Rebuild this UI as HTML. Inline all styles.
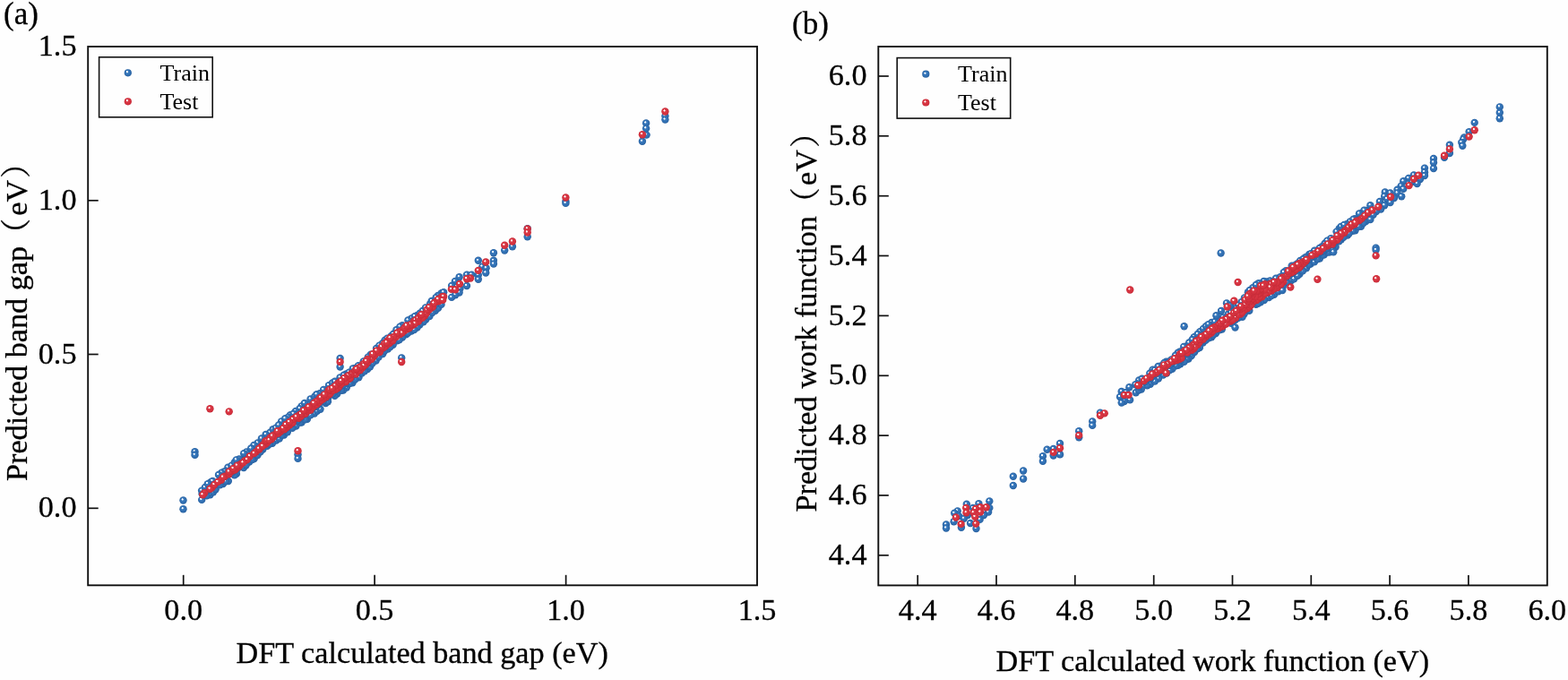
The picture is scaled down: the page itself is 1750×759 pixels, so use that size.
<!DOCTYPE html>
<html><head><meta charset="utf-8"><title>Predicted vs DFT</title><style>html,body{margin:0;padding:0;background:#fefefe;}svg{display:block}</style></head>
<body><svg width="1750" height="759" viewBox="0 0 1750 759"><defs>
<radialGradient id="gb" cx="0.5" cy="0.5" r="0.5" fx="0.36" fy="0.33">
<stop offset="0" stop-color="#fff"/><stop offset="0.19" stop-color="#f0f6fb"/><stop offset="0.33" stop-color="#3b7cc0"/><stop offset="0.8" stop-color="#2e6bad"/><stop offset="1" stop-color="#27609f"/>
</radialGradient>
<radialGradient id="gr" cx="0.5" cy="0.5" r="0.5" fx="0.36" fy="0.33">
<stop offset="0" stop-color="#fff"/><stop offset="0.19" stop-color="#fcf2f2"/><stop offset="0.33" stop-color="#da3b48"/><stop offset="0.8" stop-color="#d3303d"/><stop offset="1" stop-color="#c42a37"/>
</radialGradient>
</defs><rect width="1750" height="759" fill="#fefefe"/>
<rect x="98.2" y="52" width="746.8" height="601.3" fill="none" stroke="#111" stroke-width="1.9"/><line x1="204.7" y1="653.3" x2="204.7" y2="641.8" stroke="#111" stroke-width="1.7"/><line x1="418.1" y1="653.3" x2="418.1" y2="641.8" stroke="#111" stroke-width="1.7"/><line x1="631.6" y1="653.3" x2="631.6" y2="641.8" stroke="#111" stroke-width="1.7"/><line x1="98.2" y1="567.3" x2="109.7" y2="567.3" stroke="#111" stroke-width="1.7"/><line x1="98.2" y1="395.5" x2="109.7" y2="395.5" stroke="#111" stroke-width="1.7"/><line x1="98.2" y1="223.8" x2="109.7" y2="223.8" stroke="#111" stroke-width="1.7"/><rect x="980.3" y="52" width="746.5" height="601.4" fill="none" stroke="#111" stroke-width="1.9"/><line x1="1024.2" y1="653.4" x2="1024.2" y2="641.9" stroke="#111" stroke-width="1.7"/><line x1="1112.0" y1="653.4" x2="1112.0" y2="641.9" stroke="#111" stroke-width="1.7"/><line x1="1199.8" y1="653.4" x2="1199.8" y2="641.9" stroke="#111" stroke-width="1.7"/><line x1="1287.7" y1="653.4" x2="1287.7" y2="641.9" stroke="#111" stroke-width="1.7"/><line x1="1375.5" y1="653.4" x2="1375.5" y2="641.9" stroke="#111" stroke-width="1.7"/><line x1="1463.3" y1="653.4" x2="1463.3" y2="641.9" stroke="#111" stroke-width="1.7"/><line x1="1551.1" y1="653.4" x2="1551.1" y2="641.9" stroke="#111" stroke-width="1.7"/><line x1="1638.9" y1="653.4" x2="1638.9" y2="641.9" stroke="#111" stroke-width="1.7"/><line x1="980.3" y1="619.8" x2="991.8" y2="619.8" stroke="#111" stroke-width="1.7"/><line x1="980.3" y1="552.9" x2="991.8" y2="552.9" stroke="#111" stroke-width="1.7"/><line x1="980.3" y1="486.1" x2="991.8" y2="486.1" stroke="#111" stroke-width="1.7"/><line x1="980.3" y1="419.3" x2="991.8" y2="419.3" stroke="#111" stroke-width="1.7"/><line x1="980.3" y1="352.4" x2="991.8" y2="352.4" stroke="#111" stroke-width="1.7"/><line x1="980.3" y1="285.5" x2="991.8" y2="285.5" stroke="#111" stroke-width="1.7"/><line x1="980.3" y1="218.7" x2="991.8" y2="218.7" stroke="#111" stroke-width="1.7"/><line x1="980.3" y1="151.8" x2="991.8" y2="151.8" stroke="#111" stroke-width="1.7"/><line x1="980.3" y1="85.0" x2="991.8" y2="85.0" stroke="#111" stroke-width="1.7"/><g fill="url(#gb)"><circle cx="393.4" cy="427.4" r="4.2"/><circle cx="386.8" cy="432.6" r="4.2"/><circle cx="350.9" cy="461.6" r="4.2"/><circle cx="383.1" cy="435.6" r="4.2"/><circle cx="1422.1" cy="328.8" r="4.2"/><circle cx="1490.6" cy="275.8" r="4.2"/><circle cx="336.6" cy="471.6" r="4.2"/><circle cx="376.3" cy="439.6" r="4.2"/><circle cx="410.2" cy="412.1" r="4.2"/><circle cx="1450.5" cy="305.7" r="4.2"/><circle cx="1329.8" cy="397.1" r="4.2"/><circle cx="1426.7" cy="325.4" r="4.2"/><circle cx="1438.0" cy="314.4" r="4.2"/><circle cx="342.9" cy="467.8" r="4.2"/><circle cx="334.7" cy="471.6" r="4.2"/><circle cx="234.5" cy="552.3" r="4.2"/><circle cx="1441.2" cy="313.0" r="4.2"/><circle cx="1457.9" cy="299.4" r="4.2"/><circle cx="1326.5" cy="400.5" r="4.2"/><circle cx="413.1" cy="409.2" r="4.2"/><circle cx="1472.9" cy="288.6" r="4.2"/><circle cx="263.9" cy="528.9" r="4.2"/><circle cx="1444.2" cy="311.4" r="4.2"/><circle cx="1462.7" cy="294.5" r="4.2"/><circle cx="1324.4" cy="401.1" r="4.2"/><circle cx="1484.4" cy="281.2" r="4.2"/><circle cx="1477.8" cy="284.4" r="4.2"/><circle cx="340.6" cy="468.3" r="4.2"/><circle cx="1519.0" cy="252.8" r="4.2"/><circle cx="238.0" cy="549.3" r="4.2"/><circle cx="1476.6" cy="284.6" r="4.2"/><circle cx="363.5" cy="450.0" r="4.2"/><circle cx="1317.4" cy="406.2" r="4.2"/><circle cx="400.4" cy="421.3" r="4.2"/><circle cx="1482.4" cy="281.5" r="4.2"/><circle cx="1413.7" cy="332.0" r="4.2"/><circle cx="1487.5" cy="279.1" r="4.2"/><circle cx="346.5" cy="463.4" r="4.2"/><circle cx="419.6" cy="402.6" r="4.2"/><circle cx="354.0" cy="458.8" r="4.2"/><circle cx="1302.1" cy="416.6" r="4.2"/><circle cx="373.6" cy="441.8" r="4.2"/><circle cx="357.5" cy="456.8" r="4.2"/><circle cx="1388.7" cy="350.3" r="4.2"/><circle cx="1466.9" cy="292.4" r="4.2"/><circle cx="272.0" cy="522.0" r="4.2"/><circle cx="308.3" cy="491.6" r="4.2"/><circle cx="1470.1" cy="289.2" r="4.2"/><circle cx="396.3" cy="423.6" r="4.2"/><circle cx="403.8" cy="416.5" r="4.2"/><circle cx="1298.2" cy="418.5" r="4.2"/><circle cx="1416.2" cy="332.0" r="4.2"/><circle cx="1447.0" cy="305.8" r="4.2"/><circle cx="1524.4" cy="247.0" r="4.2"/><circle cx="240.6" cy="546.3" r="4.2"/><circle cx="304.0" cy="494.7" r="4.2"/><circle cx="1521.6" cy="249.1" r="4.2"/><circle cx="1460.5" cy="295.6" r="4.2"/><circle cx="317.0" cy="485.5" r="4.2"/><circle cx="1386.6" cy="353.7" r="4.2"/><circle cx="1314.7" cy="407.9" r="4.2"/><circle cx="1512.5" cy="257.2" r="4.2"/><circle cx="390.3" cy="428.0" r="4.2"/><circle cx="283.7" cy="512.0" r="4.2"/><circle cx="1292.9" cy="422.5" r="4.2"/><circle cx="1419.0" cy="330.1" r="4.2"/><circle cx="366.0" cy="444.2" r="4.2"/><circle cx="320.8" cy="482.2" r="4.2"/><circle cx="1394.3" cy="346.7" r="4.2"/><circle cx="1436.3" cy="315.3" r="4.2"/><circle cx="1453.9" cy="302.4" r="4.2"/><circle cx="1333.1" cy="393.0" r="4.2"/><circle cx="1448.2" cy="307.9" r="4.2"/><circle cx="475.3" cy="356.6" r="4.2"/><circle cx="311.8" cy="489.6" r="4.2"/><circle cx="278.3" cy="515.6" r="4.2"/><circle cx="1410.9" cy="335.1" r="4.2"/><circle cx="1363.8" cy="367.6" r="4.2"/><circle cx="432.9" cy="389.6" r="4.2"/><circle cx="254.8" cy="537.0" r="4.2"/><circle cx="365.9" cy="448.3" r="4.2"/><circle cx="1312.3" cy="408.4" r="4.2"/><circle cx="1496.9" cy="267.3" r="4.2"/><circle cx="374.1" cy="436.8" r="4.2"/><circle cx="406.8" cy="414.3" r="4.2"/><circle cx="1401.9" cy="339.7" r="4.2"/><circle cx="1431.8" cy="319.8" r="4.2"/><circle cx="281.5" cy="513.0" r="4.2"/><circle cx="1427.0" cy="319.1" r="4.2"/><circle cx="1488.0" cy="273.2" r="4.2"/><circle cx="1509.7" cy="257.9" r="4.2"/><circle cx="1357.0" cy="372.0" r="4.2"/><circle cx="380.9" cy="435.7" r="4.2"/><circle cx="1321.6" cy="403.8" r="4.2"/><circle cx="422.6" cy="398.6" r="4.2"/><circle cx="1503.9" cy="262.5" r="4.2"/><circle cx="1516.3" cy="252.8" r="4.2"/><circle cx="472.6" cy="359.3" r="4.2"/><circle cx="1406.8" cy="337.4" r="4.2"/><circle cx="468.4" cy="362.5" r="4.2"/><circle cx="1283.8" cy="428.7" r="4.2"/><circle cx="330.4" cy="475.5" r="4.2"/><circle cx="261.7" cy="530.4" r="4.2"/><circle cx="453.1" cy="373.4" r="4.2"/><circle cx="274.6" cy="519.2" r="4.2"/><circle cx="415.7" cy="405.4" r="4.2"/><circle cx="293.4" cy="501.5" r="4.2"/><circle cx="1374.1" cy="360.8" r="4.2"/><circle cx="249.0" cy="540.0" r="4.2"/><circle cx="1478.4" cy="279.3" r="4.2"/><circle cx="1428.3" cy="319.4" r="4.2"/><circle cx="1499.5" cy="264.7" r="4.2"/><circle cx="245.4" cy="541.4" r="4.2"/><circle cx="225.2" cy="557.9" r="4.2"/><circle cx="251.9" cy="537.3" r="4.2"/><circle cx="1308.4" cy="411.8" r="4.2"/><circle cx="485.9" cy="346.7" r="4.2"/><circle cx="1305.7" cy="413.1" r="4.2"/><circle cx="1481.0" cy="277.2" r="4.2"/><circle cx="326.3" cy="477.7" r="4.2"/><circle cx="371.2" cy="439.7" r="4.2"/><circle cx="1404.1" cy="338.8" r="4.2"/><circle cx="376.9" cy="434.8" r="4.2"/><circle cx="449.1" cy="376.5" r="4.2"/><circle cx="1342.6" cy="382.6" r="4.2"/><circle cx="1382.1" cy="354.9" r="4.2"/><circle cx="1318.2" cy="401.7" r="4.2"/><circle cx="287.5" cy="508.0" r="4.2"/><circle cx="459.1" cy="369.5" r="4.2"/><circle cx="465.6" cy="365.5" r="4.2"/><circle cx="1417.4" cy="324.8" r="4.2"/><circle cx="1414.3" cy="327.0" r="4.2"/><circle cx="385.9" cy="427.9" r="4.2"/><circle cx="479.4" cy="353.1" r="4.2"/><circle cx="1280.3" cy="430.2" r="4.2"/><circle cx="462.3" cy="368.1" r="4.2"/><circle cx="1352.2" cy="376.2" r="4.2"/><circle cx="1326.7" cy="393.9" r="4.2"/><circle cx="314.7" cy="485.6" r="4.2"/><circle cx="443.2" cy="380.4" r="4.2"/><circle cx="350.9" cy="454.4" r="4.2"/><circle cx="1361.0" cy="368.3" r="4.2"/><circle cx="353.4" cy="453.2" r="4.2"/><circle cx="379.2" cy="431.8" r="4.2"/><circle cx="290.6" cy="504.4" r="4.2"/><circle cx="230.7" cy="553.4" r="4.2"/><circle cx="1379.0" cy="356.7" r="4.2"/><circle cx="1475.3" cy="281.1" r="4.2"/><circle cx="445.6" cy="379.4" r="4.2"/><circle cx="1349.1" cy="377.4" r="4.2"/><circle cx="1267.7" cy="438.3" r="4.2"/><circle cx="1336.3" cy="385.7" r="4.2"/><circle cx="1432.0" cy="312.7" r="4.2"/><circle cx="1338.9" cy="388.0" r="4.2"/><circle cx="1450.7" cy="298.7" r="4.2"/><circle cx="482.4" cy="349.0" r="4.2"/><circle cx="1288.9" cy="425.6" r="4.2"/><circle cx="427.2" cy="395.1" r="4.2"/><circle cx="410.5" cy="405.3" r="4.2"/><circle cx="1273.8" cy="434.5" r="4.2"/><circle cx="314.8" cy="481.7" r="4.2"/><circle cx="1494.5" cy="269.3" r="4.2"/><circle cx="1419.5" cy="323.1" r="4.2"/><circle cx="258.9" cy="527.8" r="4.2"/><circle cx="347.4" cy="457.1" r="4.2"/><circle cx="1485.6" cy="273.1" r="4.2"/><circle cx="1336.3" cy="389.4" r="4.2"/><circle cx="429.1" cy="391.8" r="4.2"/><circle cx="489.1" cy="343.8" r="4.2"/><circle cx="1505.7" cy="260.5" r="4.2"/><circle cx="1444.6" cy="303.4" r="4.2"/><circle cx="1320.9" cy="397.6" r="4.2"/><circle cx="337.2" cy="465.4" r="4.2"/><circle cx="382.8" cy="429.9" r="4.2"/><circle cx="1423.0" cy="321.6" r="4.2"/><circle cx="1270.8" cy="435.5" r="4.2"/><circle cx="1376.2" cy="358.8" r="4.2"/><circle cx="455.2" cy="371.9" r="4.2"/><circle cx="344.0" cy="458.6" r="4.2"/><circle cx="399.9" cy="414.2" r="4.2"/><circle cx="438.7" cy="384.8" r="4.2"/><circle cx="333.1" cy="468.7" r="4.2"/><circle cx="402.4" cy="411.2" r="4.2"/><circle cx="298.3" cy="497.9" r="4.2"/><circle cx="406.5" cy="409.4" r="4.2"/><circle cx="363.8" cy="444.4" r="4.2"/><circle cx="1453.8" cy="295.4" r="4.2"/><circle cx="1510.8" cy="251.7" r="4.2"/><circle cx="320.8" cy="476.8" r="4.2"/><circle cx="1340.2" cy="381.5" r="4.2"/><circle cx="1345.6" cy="379.9" r="4.2"/><circle cx="360.5" cy="447.9" r="4.2"/><circle cx="1466.8" cy="286.2" r="4.2"/><circle cx="1435.9" cy="309.3" r="4.2"/><circle cx="435.7" cy="387.0" r="4.2"/><circle cx="393.2" cy="420.2" r="4.2"/><circle cx="1495.3" cy="262.9" r="4.2"/><circle cx="1330.5" cy="389.7" r="4.2"/><circle cx="1411.2" cy="326.7" r="4.2"/><circle cx="396.4" cy="416.2" r="4.2"/><circle cx="1354.0" cy="374.1" r="4.2"/><circle cx="240.7" cy="539.3" r="4.2"/><circle cx="231.5" cy="547.2" r="4.2"/><circle cx="1461.2" cy="289.3" r="4.2"/><circle cx="330.8" cy="470.3" r="4.2"/><circle cx="1490.9" cy="266.6" r="4.2"/><circle cx="473.3" cy="352.7" r="4.2"/><circle cx="300.9" cy="495.5" r="4.2"/><circle cx="356.4" cy="450.2" r="4.2"/><circle cx="459.1" cy="363.0" r="4.2"/><circle cx="265.0" cy="523.4" r="4.2"/><circle cx="412.9" cy="401.4" r="4.2"/><circle cx="462.6" cy="361.0" r="4.2"/><circle cx="1385.6" cy="347.0" r="4.2"/><circle cx="1391.5" cy="345.1" r="4.2"/><circle cx="247.5" cy="533.8" r="4.2"/><circle cx="268.2" cy="517.8" r="4.2"/><circle cx="287.7" cy="501.5" r="4.2"/><circle cx="1423.7" cy="316.1" r="4.2"/><circle cx="1407.5" cy="330.3" r="4.2"/><circle cx="327.8" cy="470.8" r="4.2"/><circle cx="260.7" cy="525.9" r="4.2"/><circle cx="1381.9" cy="351.3" r="4.2"/><circle cx="1293.5" cy="414.9" r="4.2"/><circle cx="310.0" cy="484.7" r="4.2"/><circle cx="492.5" cy="339.9" r="4.2"/><circle cx="237.6" cy="543.2" r="4.2"/><circle cx="382.6" cy="425.8" r="4.2"/><circle cx="318.1" cy="479.8" r="4.2"/><circle cx="324.8" cy="473.8" r="4.2"/><circle cx="1464.1" cy="286.7" r="4.2"/><circle cx="466.9" cy="357.4" r="4.2"/><circle cx="370.2" cy="435.1" r="4.2"/><circle cx="1294.9" cy="414.2" r="4.2"/><circle cx="1345.1" cy="375.7" r="4.2"/><circle cx="386.4" cy="421.2" r="4.2"/><circle cx="1308.0" cy="405.8" r="4.2"/><circle cx="1473.2" cy="281.7" r="4.2"/><circle cx="1457.4" cy="292.9" r="4.2"/><circle cx="1284.1" cy="422.4" r="4.2"/><circle cx="272.0" cy="514.0" r="4.2"/><circle cx="1270.8" cy="431.7" r="4.2"/><circle cx="1305.2" cy="407.9" r="4.2"/><circle cx="1395.9" cy="340.1" r="4.2"/><circle cx="1324.3" cy="394.9" r="4.2"/><circle cx="442.6" cy="375.1" r="4.2"/><circle cx="1289.7" cy="417.8" r="4.2"/><circle cx="1475.6" cy="275.2" r="4.2"/><circle cx="390.4" cy="421.1" r="4.2"/><circle cx="367.4" cy="435.8" r="4.2"/><circle cx="423.1" cy="393.1" r="4.2"/><circle cx="255.5" cy="529.0" r="4.2"/><circle cx="1376.0" cy="353.2" r="4.2"/><circle cx="1499.7" cy="259.3" r="4.2"/><circle cx="1519.0" cy="245.2" r="4.2"/><circle cx="468.9" cy="356.7" r="4.2"/><circle cx="361.3" cy="440.9" r="4.2"/><circle cx="485.7" cy="340.7" r="4.2"/><circle cx="291.0" cy="497.3" r="4.2"/><circle cx="1425.6" cy="314.6" r="4.2"/><circle cx="430.2" cy="386.4" r="4.2"/><circle cx="1401.5" cy="334.2" r="4.2"/><circle cx="436.1" cy="381.5" r="4.2"/><circle cx="1428.9" cy="312.5" r="4.2"/><circle cx="285.2" cy="502.5" r="4.2"/><circle cx="274.7" cy="511.0" r="4.2"/><circle cx="1503.4" cy="255.9" r="4.2"/><circle cx="1278.0" cy="426.3" r="4.2"/><circle cx="1437.9" cy="307.8" r="4.2"/><circle cx="351.2" cy="449.1" r="4.2"/><circle cx="1441.5" cy="304.7" r="4.2"/><circle cx="427.2" cy="389.4" r="4.2"/><circle cx="455.8" cy="363.7" r="4.2"/><circle cx="250.6" cy="532.1" r="4.2"/><circle cx="1343.3" cy="378.3" r="4.2"/><circle cx="347.9" cy="451.4" r="4.2"/><circle cx="1523.1" cy="242.3" r="4.2"/><circle cx="433.0" cy="382.5" r="4.2"/><circle cx="362.7" cy="440.7" r="4.2"/><circle cx="1497.3" cy="259.5" r="4.2"/><circle cx="1299.7" cy="410.6" r="4.2"/><circle cx="1446.8" cy="298.7" r="4.2"/><circle cx="1285.6" cy="420.7" r="4.2"/><circle cx="439.6" cy="376.7" r="4.2"/><circle cx="310.4" cy="480.5" r="4.2"/><circle cx="1383.2" cy="345.1" r="4.2"/><circle cx="297.9" cy="491.7" r="4.2"/><circle cx="307.8" cy="483.2" r="4.2"/><circle cx="373.4" cy="431.1" r="4.2"/><circle cx="244.2" cy="537.4" r="4.2"/><circle cx="396.4" cy="411.0" r="4.2"/><circle cx="1398.0" cy="336.9" r="4.2"/><circle cx="1318.6" cy="396.5" r="4.2"/><circle cx="225.6" cy="551.3" r="4.2"/><circle cx="417.3" cy="396.9" r="4.2"/><circle cx="235.3" cy="543.7" r="4.2"/><circle cx="1358.6" cy="364.7" r="4.2"/><circle cx="277.7" cy="510.2" r="4.2"/><circle cx="1380.2" cy="349.7" r="4.2"/><circle cx="1524.7" cy="239.9" r="4.2"/><circle cx="1315.0" cy="399.9" r="4.2"/><circle cx="1330.4" cy="384.7" r="4.2"/><circle cx="1351.4" cy="367.9" r="4.2"/><circle cx="339.9" cy="456.2" r="4.2"/><circle cx="452.0" cy="366.8" r="4.2"/><circle cx="1370.3" cy="357.9" r="4.2"/><circle cx="1388.3" cy="339.5" r="4.2"/><circle cx="448.8" cy="370.8" r="4.2"/><circle cx="413.8" cy="395.8" r="4.2"/><circle cx="1368.1" cy="357.1" r="4.2"/><circle cx="1506.9" cy="252.9" r="4.2"/><circle cx="1373.9" cy="355.1" r="4.2"/><circle cx="380.0" cy="427.2" r="4.2"/><circle cx="418.9" cy="395.3" r="4.2"/><circle cx="377.0" cy="428.7" r="4.2"/><circle cx="294.7" cy="494.7" r="4.2"/><circle cx="386.4" cy="417.5" r="4.2"/><circle cx="262.0" cy="521.1" r="4.2"/><circle cx="333.2" cy="461.4" r="4.2"/><circle cx="447.1" cy="372.3" r="4.2"/><circle cx="482.7" cy="341.3" r="4.2"/><circle cx="1451.1" cy="290.9" r="4.2"/><circle cx="1472.7" cy="276.9" r="4.2"/><circle cx="343.5" cy="454.1" r="4.2"/><circle cx="330.9" cy="464.1" r="4.2"/><circle cx="488.6" cy="336.1" r="4.2"/><circle cx="400.0" cy="408.2" r="4.2"/><circle cx="1281.4" cy="422.9" r="4.2"/><circle cx="1361.0" cy="361.7" r="4.2"/><circle cx="326.9" cy="466.5" r="4.2"/><circle cx="305.1" cy="486.5" r="4.2"/><circle cx="357.5" cy="442.9" r="4.2"/><circle cx="1428.8" cy="309.1" r="4.2"/><circle cx="1392.9" cy="337.6" r="4.2"/><circle cx="1332.8" cy="382.7" r="4.2"/><circle cx="1461.1" cy="284.0" r="4.2"/><circle cx="1343.2" cy="373.7" r="4.2"/><circle cx="1467.1" cy="279.8" r="4.2"/><circle cx="1448.1" cy="294.1" r="4.2"/><circle cx="1377.1" cy="346.9" r="4.2"/><circle cx="258.2" cy="523.7" r="4.2"/><circle cx="301.3" cy="488.0" r="4.2"/><circle cx="1524.8" cy="234.9" r="4.2"/><circle cx="1301.6" cy="403.7" r="4.2"/><circle cx="321.6" cy="470.9" r="4.2"/><circle cx="1336.0" cy="380.0" r="4.2"/><circle cx="1408.3" cy="325.1" r="4.2"/><circle cx="1295.7" cy="408.4" r="4.2"/><circle cx="379.5" cy="421.4" r="4.2"/><circle cx="1478.6" cy="271.8" r="4.2"/><circle cx="1417.6" cy="317.4" r="4.2"/><circle cx="410.7" cy="398.6" r="4.2"/><circle cx="1323.7" cy="390.8" r="4.2"/><circle cx="1506.8" cy="247.5" r="4.2"/><circle cx="1324.2" cy="386.4" r="4.2"/><circle cx="1305.2" cy="403.4" r="4.2"/><circle cx="1386.4" cy="341.9" r="4.2"/><circle cx="254.4" cy="521.7" r="4.2"/><circle cx="1457.0" cy="287.3" r="4.2"/><circle cx="318.1" cy="473.7" r="4.2"/><circle cx="479.7" cy="344.2" r="4.2"/><circle cx="313.4" cy="476.4" r="4.2"/><circle cx="1485.4" cy="266.1" r="4.2"/><circle cx="225.1" cy="547.6" r="4.2"/><circle cx="465.2" cy="352.2" r="4.2"/><circle cx="1454.6" cy="289.0" r="4.2"/><circle cx="323.9" cy="468.2" r="4.2"/><circle cx="475.9" cy="347.9" r="4.2"/><circle cx="1400.8" cy="330.2" r="4.2"/><circle cx="1503.2" cy="250.3" r="4.2"/><circle cx="1463.1" cy="283.2" r="4.2"/><circle cx="266.9" cy="512.5" r="4.2"/><circle cx="1399.1" cy="333.0" r="4.2"/><circle cx="235.2" cy="538.1" r="4.2"/><circle cx="405.7" cy="403.5" r="4.2"/><circle cx="1512.4" cy="244.1" r="4.2"/><circle cx="436.8" cy="375.0" r="4.2"/><circle cx="1394.5" cy="334.9" r="4.2"/><circle cx="1510.5" cy="244.7" r="4.2"/><circle cx="287.6" cy="494.5" r="4.2"/><circle cx="1441.7" cy="296.8" r="4.2"/><circle cx="492.3" cy="334.0" r="4.2"/><circle cx="1405.2" cy="325.6" r="4.2"/><circle cx="429.6" cy="379.6" r="4.2"/><circle cx="1519.6" cy="238.0" r="4.2"/><circle cx="1391.3" cy="334.1" r="4.2"/><circle cx="1339.4" cy="376.3" r="4.2"/><circle cx="468.6" cy="349.8" r="4.2"/><circle cx="275.2" cy="504.4" r="4.2"/><circle cx="237.3" cy="536.9" r="4.2"/><circle cx="1370.7" cy="350.8" r="4.2"/><circle cx="1425.4" cy="311.1" r="4.2"/><circle cx="383.7" cy="418.7" r="4.2"/><circle cx="1317.1" cy="392.4" r="4.2"/><circle cx="1494.7" cy="255.1" r="4.2"/><circle cx="1409.8" cy="322.7" r="4.2"/><circle cx="1395.6" cy="329.8" r="4.2"/><circle cx="1307.4" cy="401.4" r="4.2"/><circle cx="356.8" cy="439.2" r="4.2"/><circle cx="389.6" cy="415.6" r="4.2"/><circle cx="1299.4" cy="405.0" r="4.2"/><circle cx="1413.4" cy="319.7" r="4.2"/><circle cx="1445.6" cy="295.9" r="4.2"/><circle cx="1481.3" cy="268.6" r="4.2"/><circle cx="1271.2" cy="424.4" r="4.2"/><circle cx="367.0" cy="430.1" r="4.2"/><circle cx="1417.4" cy="313.4" r="4.2"/><circle cx="393.8" cy="411.5" r="4.2"/><circle cx="250.6" cy="526.2" r="4.2"/><circle cx="324.1" cy="463.3" r="4.2"/><circle cx="459.3" cy="355.5" r="4.2"/><circle cx="1286.5" cy="412.6" r="4.2"/><circle cx="301.5" cy="482.7" r="4.2"/><circle cx="427.1" cy="383.3" r="4.2"/><circle cx="480.1" cy="339.1" r="4.2"/><circle cx="1314.7" cy="393.8" r="4.2"/><circle cx="258.5" cy="519.6" r="4.2"/><circle cx="371.0" cy="427.5" r="4.2"/><circle cx="1321.2" cy="387.0" r="4.2"/><circle cx="1344.8" cy="370.8" r="4.2"/><circle cx="1435.2" cy="302.1" r="4.2"/><circle cx="1491.6" cy="258.6" r="4.2"/><circle cx="283.4" cy="496.9" r="4.2"/><circle cx="228.9" cy="543.9" r="4.2"/><circle cx="280.2" cy="500.5" r="4.2"/><circle cx="1288.9" cy="413.0" r="4.2"/><circle cx="439.1" cy="372.8" r="4.2"/><circle cx="1432.8" cy="304.0" r="4.2"/><circle cx="1496.6" cy="252.9" r="4.2"/><circle cx="261.9" cy="515.9" r="4.2"/><circle cx="455.4" cy="357.5" r="4.2"/><circle cx="346.5" cy="445.5" r="4.2"/><circle cx="361.1" cy="434.9" r="4.2"/><circle cx="272.2" cy="506.2" r="4.2"/><circle cx="1311.9" cy="396.7" r="4.2"/><circle cx="1424.0" cy="310.7" r="4.2"/><circle cx="1374.1" cy="349.1" r="4.2"/><circle cx="1379.9" cy="343.6" r="4.2"/><circle cx="420.0" cy="388.9" r="4.2"/><circle cx="1267.3" cy="429.2" r="4.2"/><circle cx="247.3" cy="527.6" r="4.2"/><circle cx="1413.6" cy="314.4" r="4.2"/><circle cx="492.8" cy="327.3" r="4.2"/><circle cx="336.5" cy="453.4" r="4.2"/><circle cx="373.7" cy="425.8" r="4.2"/><circle cx="423.4" cy="385.6" r="4.2"/><circle cx="263.7" cy="513.4" r="4.2"/><circle cx="304.6" cy="479.2" r="4.2"/><circle cx="1274.5" cy="422.8" r="4.2"/><circle cx="1522.5" cy="234.7" r="4.2"/><circle cx="1398.4" cy="327.9" r="4.2"/><circle cx="321.6" cy="465.6" r="4.2"/><circle cx="314.1" cy="470.4" r="4.2"/><circle cx="471.7" cy="346.9" r="4.2"/><circle cx="1407.9" cy="320.1" r="4.2"/><circle cx="307.8" cy="477.6" r="4.2"/><circle cx="449.0" cy="363.1" r="4.2"/><circle cx="475.0" cy="343.4" r="4.2"/><circle cx="1361.1" cy="355.7" r="4.2"/><circle cx="334.5" cy="456.1" r="4.2"/><circle cx="1500.2" cy="250.9" r="4.2"/><circle cx="244.0" cy="530.0" r="4.2"/><circle cx="231.8" cy="540.1" r="4.2"/><circle cx="1365.0" cy="354.4" r="4.2"/><circle cx="1283.3" cy="416.8" r="4.2"/><circle cx="432.2" cy="377.6" r="4.2"/><circle cx="330.0" cy="458.9" r="4.2"/><circle cx="1292.6" cy="408.9" r="4.2"/><circle cx="1517.0" cy="238.5" r="4.2"/><circle cx="1358.6" cy="356.4" r="4.2"/><circle cx="351.4" cy="442.5" r="4.2"/><circle cx="1382.2" cy="340.4" r="4.2"/><circle cx="1349.2" cy="366.6" r="4.2"/><circle cx="481.7" cy="336.0" r="4.2"/><circle cx="1385.6" cy="337.2" r="4.2"/><circle cx="488.8" cy="330.0" r="4.2"/><circle cx="1339.3" cy="370.3" r="4.2"/><circle cx="486.6" cy="332.1" r="4.2"/><circle cx="327.5" cy="461.8" r="4.2"/><circle cx="1327.2" cy="382.5" r="4.2"/><circle cx="296.6" cy="484.9" r="4.2"/><circle cx="311.1" cy="474.5" r="4.2"/><circle cx="442.4" cy="368.2" r="4.2"/><circle cx="1349.3" cy="362.9" r="4.2"/><circle cx="462.9" cy="353.1" r="4.2"/><circle cx="446.4" cy="364.6" r="4.2"/><circle cx="291.9" cy="489.5" r="4.2"/><circle cx="1332.8" cy="376.2" r="4.2"/><circle cx="1330.7" cy="379.0" r="4.2"/><circle cx="353.4" cy="440.3" r="4.2"/><circle cx="318.3" cy="467.2" r="4.2"/><circle cx="1336.6" cy="372.9" r="4.2"/><circle cx="1352.3" cy="360.0" r="4.2"/><circle cx="1355.7" cy="359.2" r="4.2"/><circle cx="339.9" cy="449.9" r="4.2"/><circle cx="1400.7" cy="323.6" r="4.2"/><circle cx="1343.0" cy="366.9" r="4.2"/><circle cx="1392.9" cy="326.3" r="4.2"/><circle cx="1410.5" cy="314.0" r="4.2"/><circle cx="1346.0" cy="364.2" r="4.2"/><circle cx="1388.9" cy="332.5" r="4.2"/><circle cx="1398.3" cy="321.3" r="4.2"/><circle cx="1406.8" cy="316.7" r="4.2"/><circle cx="1404.6" cy="316.1" r="4.2"/><circle cx="1394.8" cy="324.0" r="4.2"/><circle cx="1401.8" cy="317.9" r="4.2"/><circle cx="1673.8" cy="119.4" r="4.2"/><circle cx="1673.8" cy="125.8" r="4.2"/><circle cx="742.4" cy="129.6" r="4.2"/><circle cx="1673.8" cy="132.3" r="4.2"/><circle cx="742.4" cy="133.6" r="4.2"/><circle cx="1645.7" cy="136.9" r="4.2"/><circle cx="721.1" cy="137.5" r="4.2"/><circle cx="721.1" cy="143.4" r="4.2"/><circle cx="1639.6" cy="147.1" r="4.2"/><circle cx="721.6" cy="150.6" r="4.2"/><circle cx="1634.1" cy="153.5" r="4.2"/><circle cx="1633.2" cy="155.4" r="4.2"/><circle cx="716.9" cy="157.7" r="4.2"/><circle cx="1631.3" cy="159.0" r="4.2"/><circle cx="1617.9" cy="161.8" r="4.2"/><circle cx="1632.3" cy="162.7" r="4.2"/><circle cx="1617.9" cy="171.0" r="4.2"/><circle cx="1612.0" cy="175.7" r="4.2"/><circle cx="1600.0" cy="177.0" r="4.2"/><circle cx="1600.0" cy="181.5" r="4.2"/><circle cx="1590.0" cy="187.6" r="4.2"/><circle cx="1600.0" cy="188.1" r="4.2"/><circle cx="1590.0" cy="192.3" r="4.2"/><circle cx="1577.9" cy="195.5" r="4.2"/><circle cx="1590.0" cy="196.0" r="4.2"/><circle cx="1572.1" cy="198.9" r="4.2"/><circle cx="1585.0" cy="200.0" r="4.2"/><circle cx="1566.3" cy="202.3" r="4.2"/><circle cx="1576.0" cy="203.0" r="4.2"/><circle cx="1581.6" cy="205.0" r="4.2"/><circle cx="1563.7" cy="207.6" r="4.2"/><circle cx="1566.3" cy="210.8" r="4.2"/><circle cx="1559.5" cy="211.8" r="4.2"/><circle cx="1545.8" cy="214.5" r="4.2"/><circle cx="1551.6" cy="215.5" r="4.2"/><circle cx="1559.5" cy="215.5" r="4.2"/><circle cx="1545.2" cy="219.2" r="4.2"/><circle cx="1564.2" cy="219.2" r="4.2"/><circle cx="1556.0" cy="221.0" r="4.2"/><circle cx="1548.0" cy="222.0" r="4.2"/><circle cx="631.4" cy="224.8" r="4.2"/><circle cx="1539.9" cy="225.0" r="4.2"/><circle cx="1551.6" cy="226.1" r="4.2"/><circle cx="631.4" cy="226.9" r="4.2"/><circle cx="1529.4" cy="229.2" r="4.2"/><circle cx="1545.2" cy="229.2" r="4.2"/><circle cx="1541.1" cy="233.5" r="4.2"/><circle cx="1536.0" cy="236.0" r="4.2"/><circle cx="1532.6" cy="239.8" r="4.2"/><circle cx="1529.4" cy="245.0" r="4.2"/><circle cx="588.7" cy="255.3" r="4.2"/><circle cx="588.7" cy="264.3" r="4.2"/><circle cx="571.9" cy="275.3" r="4.2"/><circle cx="1535.6" cy="276.7" r="4.2"/><circle cx="1535.6" cy="279.0" r="4.2"/><circle cx="563.2" cy="279.5" r="4.2"/><circle cx="1488.2" cy="281.4" r="4.2"/><circle cx="550.9" cy="282.2" r="4.2"/><circle cx="1362.6" cy="282.5" r="4.2"/><circle cx="533.8" cy="290.8" r="4.2"/><circle cx="550.9" cy="290.8" r="4.2"/><circle cx="550.9" cy="294.6" r="4.2"/><circle cx="538.3" cy="297.6" r="4.2"/><circle cx="542.6" cy="299.3" r="4.2"/><circle cx="542.2" cy="304.5" r="4.2"/><circle cx="521.0" cy="306.6" r="4.2"/><circle cx="526.3" cy="306.6" r="4.2"/><circle cx="533.8" cy="307.0" r="4.2"/><circle cx="512.6" cy="309.2" r="4.2"/><circle cx="533.8" cy="311.8" r="4.2"/><circle cx="507.9" cy="313.9" r="4.2"/><circle cx="504.1" cy="319.0" r="4.2"/><circle cx="521.0" cy="319.0" r="4.2"/><circle cx="513.5" cy="322.0" r="4.2"/><circle cx="1431.3" cy="324.1" r="4.2"/><circle cx="495.1" cy="326.3" r="4.2"/><circle cx="512.6" cy="326.6" r="4.2"/><circle cx="508.2" cy="329.3" r="4.2"/><circle cx="504.1" cy="331.9" r="4.2"/><circle cx="1369.0" cy="338.4" r="4.2"/><circle cx="1373.0" cy="341.0" r="4.2"/><circle cx="1363.0" cy="347.0" r="4.2"/><circle cx="1357.4" cy="352.3" r="4.2"/><circle cx="1348.6" cy="362.1" r="4.2"/><circle cx="1321.6" cy="364.3" r="4.2"/><circle cx="1378.5" cy="365.5" r="4.2"/><circle cx="448.2" cy="399.4" r="4.2"/><circle cx="379.6" cy="399.9" r="4.2"/><circle cx="379.6" cy="409.5" r="4.2"/><circle cx="1260.4" cy="432.2" r="4.2"/><circle cx="1251.7" cy="436.9" r="4.2"/><circle cx="1257.0" cy="438.0" r="4.2"/><circle cx="1250.0" cy="443.0" r="4.2"/><circle cx="1261.1" cy="446.4" r="4.2"/><circle cx="1254.8" cy="448.0" r="4.2"/><circle cx="1251.7" cy="449.6" r="4.2"/><circle cx="1227.9" cy="460.6" r="4.2"/><circle cx="1219.2" cy="470.4" r="4.2"/><circle cx="1219.2" cy="474.9" r="4.2"/><circle cx="1204.2" cy="481.2" r="4.2"/><circle cx="1204.2" cy="488.3" r="4.2"/><circle cx="1183.0" cy="495.0" r="4.2"/><circle cx="1175.7" cy="501.0" r="4.2"/><circle cx="1168.6" cy="501.7" r="4.2"/><circle cx="217.5" cy="504.2" r="4.2"/><circle cx="332.5" cy="507.3" r="4.2"/><circle cx="1183.0" cy="507.3" r="4.2"/><circle cx="217.5" cy="507.8" r="4.2"/><circle cx="1175.7" cy="508.5" r="4.2"/><circle cx="1163.9" cy="509.2" r="4.2"/><circle cx="332.5" cy="511.9" r="4.2"/><circle cx="1163.9" cy="514.8" r="4.2"/><circle cx="1142.1" cy="525.5" r="4.2"/><circle cx="1130.8" cy="531.8" r="4.2"/><circle cx="1142.1" cy="534.5" r="4.2"/><circle cx="1130.8" cy="542.0" r="4.2"/><circle cx="204.5" cy="558.5" r="4.2"/><circle cx="1104.3" cy="559.4" r="4.2"/><circle cx="1092.4" cy="562.1" r="4.2"/><circle cx="1078.8" cy="562.7" r="4.2"/><circle cx="1104.3" cy="566.9" r="4.2"/><circle cx="1085.9" cy="566.9" r="4.2"/><circle cx="204.5" cy="568.2" r="4.2"/><circle cx="1068.7" cy="570.4" r="4.2"/><circle cx="1103.1" cy="571.6" r="4.2"/><circle cx="1065.2" cy="572.8" r="4.2"/><circle cx="1080.0" cy="575.0" r="4.2"/><circle cx="1098.0" cy="575.0" r="4.2"/><circle cx="1070.0" cy="576.0" r="4.2"/><circle cx="1075.8" cy="578.7" r="4.2"/><circle cx="1093.6" cy="579.9" r="4.2"/><circle cx="1064.6" cy="582.3" r="4.2"/><circle cx="1083.0" cy="584.0" r="4.2"/><circle cx="1056.0" cy="585.5" r="4.2"/><circle cx="1072.9" cy="588.8" r="4.2"/><circle cx="1056.0" cy="589.5" r="4.2"/><circle cx="1089.5" cy="590.0" r="4.2"/></g><g fill="url(#gr)"><circle cx="1384.6" cy="350.6" r="4.2"/><circle cx="1379.1" cy="354.7" r="4.2"/><circle cx="376.6" cy="433.3" r="4.2"/><circle cx="1373.5" cy="358.5" r="4.2"/><circle cx="1391.9" cy="344.3" r="4.2"/><circle cx="1432.3" cy="314.4" r="4.2"/><circle cx="1330.2" cy="390.7" r="4.2"/><circle cx="1425.7" cy="321.1" r="4.2"/><circle cx="1332.5" cy="389.0" r="4.2"/><circle cx="404.1" cy="410.8" r="4.2"/><circle cx="363.9" cy="443.3" r="4.2"/><circle cx="1414.0" cy="326.8" r="4.2"/><circle cx="1388.4" cy="346.2" r="4.2"/><circle cx="1371.3" cy="358.9" r="4.2"/><circle cx="1419.1" cy="324.6" r="4.2"/><circle cx="1364.6" cy="364.4" r="4.2"/><circle cx="383.7" cy="426.6" r="4.2"/><circle cx="1429.7" cy="317.2" r="4.2"/><circle cx="1336.6" cy="384.7" r="4.2"/><circle cx="323.3" cy="474.3" r="4.2"/><circle cx="1359.9" cy="366.5" r="4.2"/><circle cx="236.7" cy="544.1" r="4.2"/><circle cx="1382.5" cy="350.8" r="4.2"/><circle cx="319.4" cy="477.5" r="4.2"/><circle cx="1405.0" cy="333.1" r="4.2"/><circle cx="269.0" cy="517.6" r="4.2"/><circle cx="1487.0" cy="272.6" r="4.2"/><circle cx="378.3" cy="431.7" r="4.2"/><circle cx="1375.8" cy="357.1" r="4.2"/><circle cx="266.5" cy="521.1" r="4.2"/><circle cx="389.4" cy="423.1" r="4.2"/><circle cx="403.9" cy="408.6" r="4.2"/><circle cx="228.2" cy="550.3" r="4.2"/><circle cx="259.0" cy="525.7" r="4.2"/><circle cx="1423.9" cy="321.2" r="4.2"/><circle cx="234.4" cy="545.7" r="4.2"/><circle cx="1394.6" cy="342.3" r="4.2"/><circle cx="360.6" cy="445.2" r="4.2"/><circle cx="416.4" cy="398.6" r="4.2"/><circle cx="250.8" cy="531.8" r="4.2"/><circle cx="1316.5" cy="400.8" r="4.2"/><circle cx="338.8" cy="462.1" r="4.2"/><circle cx="1468.6" cy="283.3" r="4.2"/><circle cx="273.3" cy="514.3" r="4.2"/><circle cx="1451.7" cy="296.7" r="4.2"/><circle cx="278.8" cy="509.3" r="4.2"/><circle cx="1436.3" cy="308.0" r="4.2"/><circle cx="1402.5" cy="335.0" r="4.2"/><circle cx="340.8" cy="461.8" r="4.2"/><circle cx="1386.2" cy="348.7" r="4.2"/><circle cx="401.8" cy="413.3" r="4.2"/><circle cx="1398.4" cy="337.0" r="4.2"/><circle cx="1481.6" cy="274.6" r="4.2"/><circle cx="459.4" cy="363.6" r="4.2"/><circle cx="268.3" cy="518.7" r="4.2"/><circle cx="423.8" cy="393.0" r="4.2"/><circle cx="386.0" cy="426.0" r="4.2"/><circle cx="346.5" cy="457.9" r="4.2"/><circle cx="374.4" cy="434.9" r="4.2"/><circle cx="1494.7" cy="264.9" r="4.2"/><circle cx="258.0" cy="525.1" r="4.2"/><circle cx="467.8" cy="357.0" r="4.2"/><circle cx="391.0" cy="422.0" r="4.2"/><circle cx="366.9" cy="440.6" r="4.2"/><circle cx="1492.3" cy="267.8" r="4.2"/><circle cx="1346.0" cy="375.6" r="4.2"/><circle cx="1500.1" cy="258.4" r="4.2"/><circle cx="1519.8" cy="243.9" r="4.2"/><circle cx="285.6" cy="504.4" r="4.2"/><circle cx="346.3" cy="453.9" r="4.2"/><circle cx="453.9" cy="367.6" r="4.2"/><circle cx="265.7" cy="519.7" r="4.2"/><circle cx="392.7" cy="416.7" r="4.2"/><circle cx="1415.9" cy="325.8" r="4.2"/><circle cx="350.8" cy="453.1" r="4.2"/><circle cx="349.0" cy="454.4" r="4.2"/><circle cx="1473.3" cy="280.6" r="4.2"/><circle cx="1450.0" cy="298.8" r="4.2"/><circle cx="397.1" cy="417.6" r="4.2"/><circle cx="1421.4" cy="322.3" r="4.2"/><circle cx="349.0" cy="452.1" r="4.2"/><circle cx="1467.2" cy="283.4" r="4.2"/><circle cx="466.9" cy="358.8" r="4.2"/><circle cx="474.0" cy="352.2" r="4.2"/><circle cx="408.2" cy="406.9" r="4.2"/><circle cx="1419.1" cy="320.8" r="4.2"/><circle cx="427.2" cy="388.6" r="4.2"/><circle cx="1499.9" cy="260.0" r="4.2"/><circle cx="405.6" cy="406.1" r="4.2"/><circle cx="391.4" cy="418.1" r="4.2"/><circle cx="1367.5" cy="361.5" r="4.2"/><circle cx="1396.2" cy="340.5" r="4.2"/><circle cx="289.4" cy="501.5" r="4.2"/><circle cx="430.9" cy="385.7" r="4.2"/><circle cx="399.7" cy="413.7" r="4.2"/><circle cx="1502.2" cy="256.7" r="4.2"/><circle cx="1495.1" cy="262.6" r="4.2"/><circle cx="1361.7" cy="364.7" r="4.2"/><circle cx="1454.8" cy="292.3" r="4.2"/><circle cx="255.6" cy="529.3" r="4.2"/><circle cx="255.6" cy="526.5" r="4.2"/><circle cx="410.4" cy="404.1" r="4.2"/><circle cx="1351.6" cy="371.9" r="4.2"/><circle cx="334.2" cy="463.2" r="4.2"/><circle cx="1456.8" cy="290.9" r="4.2"/><circle cx="1511.9" cy="250.2" r="4.2"/><circle cx="1517.1" cy="246.0" r="4.2"/><circle cx="406.2" cy="408.2" r="4.2"/><circle cx="1506.1" cy="254.2" r="4.2"/><circle cx="414.4" cy="401.0" r="4.2"/><circle cx="368.4" cy="439.4" r="4.2"/><circle cx="1488.2" cy="270.1" r="4.2"/><circle cx="293.6" cy="496.4" r="4.2"/><circle cx="1454.5" cy="294.1" r="4.2"/><circle cx="1507.5" cy="252.4" r="4.2"/><circle cx="247.0" cy="535.8" r="4.2"/><circle cx="353.4" cy="451.4" r="4.2"/><circle cx="1500.8" cy="259.0" r="4.2"/><circle cx="1368.4" cy="361.5" r="4.2"/><circle cx="1457.2" cy="291.6" r="4.2"/><circle cx="1408.4" cy="331.4" r="4.2"/><circle cx="1504.6" cy="255.3" r="4.2"/><circle cx="1471.3" cy="280.3" r="4.2"/><circle cx="1309.6" cy="402.7" r="4.2"/><circle cx="313.2" cy="481.6" r="4.2"/><circle cx="1325.0" cy="393.6" r="4.2"/><circle cx="283.6" cy="506.1" r="4.2"/><circle cx="263.3" cy="523.4" r="4.2"/><circle cx="275.8" cy="513.1" r="4.2"/><circle cx="291.8" cy="498.4" r="4.2"/><circle cx="239.3" cy="541.0" r="4.2"/><circle cx="434.2" cy="383.4" r="4.2"/><circle cx="312.8" cy="480.7" r="4.2"/><circle cx="1464.3" cy="285.0" r="4.2"/><circle cx="1309.9" cy="402.6" r="4.2"/><circle cx="1431.4" cy="309.8" r="4.2"/><circle cx="1298.5" cy="410.4" r="4.2"/><circle cx="371.3" cy="436.0" r="4.2"/><circle cx="261.9" cy="524.5" r="4.2"/><circle cx="226.3" cy="552.3" r="4.2"/><circle cx="1444.0" cy="302.7" r="4.2"/><circle cx="1318.6" cy="399.5" r="4.2"/><circle cx="289.0" cy="500.7" r="4.2"/><circle cx="326.6" cy="471.7" r="4.2"/><circle cx="1496.0" cy="263.4" r="4.2"/><circle cx="1523.2" cy="240.6" r="4.2"/><circle cx="1480.1" cy="274.3" r="4.2"/><circle cx="1331.9" cy="384.8" r="4.2"/><circle cx="480.9" cy="343.8" r="4.2"/><circle cx="305.5" cy="485.8" r="4.2"/><circle cx="356.0" cy="449.0" r="4.2"/><circle cx="388.4" cy="419.5" r="4.2"/><circle cx="1441.2" cy="304.4" r="4.2"/><circle cx="1412.1" cy="327.6" r="4.2"/><circle cx="396.6" cy="413.4" r="4.2"/><circle cx="1446.2" cy="300.7" r="4.2"/><circle cx="410.3" cy="401.0" r="4.2"/><circle cx="456.7" cy="366.2" r="4.2"/><circle cx="311.0" cy="483.3" r="4.2"/><circle cx="1348.6" cy="373.6" r="4.2"/><circle cx="446.5" cy="373.0" r="4.2"/><circle cx="1301.7" cy="408.1" r="4.2"/><circle cx="333.3" cy="466.7" r="4.2"/><circle cx="356.6" cy="444.9" r="4.2"/><circle cx="1338.6" cy="382.1" r="4.2"/><circle cx="309.7" cy="483.9" r="4.2"/><circle cx="1505.2" cy="253.6" r="4.2"/><circle cx="1333.5" cy="387.4" r="4.2"/><circle cx="380.5" cy="428.8" r="4.2"/><circle cx="305.3" cy="487.8" r="4.2"/><circle cx="243.2" cy="537.9" r="4.2"/><circle cx="310.3" cy="481.1" r="4.2"/><circle cx="296.3" cy="495.9" r="4.2"/><circle cx="301.3" cy="488.7" r="4.2"/><circle cx="358.4" cy="446.7" r="4.2"/><circle cx="461.8" cy="358.6" r="4.2"/><circle cx="320.6" cy="476.2" r="4.2"/><circle cx="1313.8" cy="401.9" r="4.2"/><circle cx="1513.9" cy="246.8" r="4.2"/><circle cx="408.8" cy="402.9" r="4.2"/><circle cx="451.0" cy="369.2" r="4.2"/><circle cx="336.0" cy="464.5" r="4.2"/><circle cx="302.9" cy="490.4" r="4.2"/><circle cx="343.1" cy="458.7" r="4.2"/><circle cx="1329.0" cy="386.9" r="4.2"/><circle cx="461.9" cy="362.0" r="4.2"/><circle cx="1303.7" cy="406.3" r="4.2"/><circle cx="335.9" cy="462.1" r="4.2"/><circle cx="271.3" cy="516.4" r="4.2"/><circle cx="1482.0" cy="272.4" r="4.2"/><circle cx="377.0" cy="427.9" r="4.2"/><circle cx="293.2" cy="497.8" r="4.2"/><circle cx="401.3" cy="410.0" r="4.2"/><circle cx="1508.7" cy="251.7" r="4.2"/><circle cx="463.6" cy="357.4" r="4.2"/><circle cx="374.0" cy="430.6" r="4.2"/><circle cx="1450.7" cy="293.8" r="4.2"/><circle cx="317.2" cy="479.2" r="4.2"/><circle cx="357.8" cy="443.7" r="4.2"/><circle cx="1327.2" cy="388.2" r="4.2"/><circle cx="378.9" cy="426.8" r="4.2"/><circle cx="435.2" cy="382.3" r="4.2"/><circle cx="489.4" cy="336.4" r="4.2"/><circle cx="471.4" cy="354.7" r="4.2"/><circle cx="298.2" cy="494.1" r="4.2"/><circle cx="456.1" cy="363.7" r="4.2"/><circle cx="428.9" cy="387.4" r="4.2"/><circle cx="419.7" cy="392.5" r="4.2"/><circle cx="1438.6" cy="302.3" r="4.2"/><circle cx="1458.3" cy="289.8" r="4.2"/><circle cx="1405.9" cy="331.3" r="4.2"/><circle cx="1476.7" cy="277.1" r="4.2"/><circle cx="463.3" cy="361.1" r="4.2"/><circle cx="385.3" cy="421.6" r="4.2"/><circle cx="1396.5" cy="334.9" r="4.2"/><circle cx="426.0" cy="387.3" r="4.2"/><circle cx="1406.8" cy="326.8" r="4.2"/><circle cx="1289.6" cy="416.6" r="4.2"/><circle cx="1371.5" cy="353.7" r="4.2"/><circle cx="1384.2" cy="345.2" r="4.2"/><circle cx="448.9" cy="368.6" r="4.2"/><circle cx="316.1" cy="477.9" r="4.2"/><circle cx="321.0" cy="473.9" r="4.2"/><circle cx="1345.1" cy="376.0" r="4.2"/><circle cx="1442.6" cy="299.3" r="4.2"/><circle cx="260.4" cy="522.9" r="4.2"/><circle cx="1496.8" cy="260.5" r="4.2"/><circle cx="475.8" cy="349.7" r="4.2"/><circle cx="1427.4" cy="314.0" r="4.2"/><circle cx="442.1" cy="376.1" r="4.2"/><circle cx="1283.8" cy="420.7" r="4.2"/><circle cx="1487.4" cy="267.9" r="4.2"/><circle cx="1438.3" cy="305.0" r="4.2"/><circle cx="296.2" cy="492.5" r="4.2"/><circle cx="1366.6" cy="356.9" r="4.2"/><circle cx="1357.3" cy="367.4" r="4.2"/><circle cx="1295.8" cy="412.9" r="4.2"/><circle cx="1342.7" cy="378.7" r="4.2"/><circle cx="1276.8" cy="425.0" r="4.2"/><circle cx="418.1" cy="396.4" r="4.2"/><circle cx="1437.7" cy="302.6" r="4.2"/><circle cx="297.7" cy="491.8" r="4.2"/><circle cx="1343.7" cy="374.6" r="4.2"/><circle cx="421.2" cy="393.6" r="4.2"/><circle cx="445.6" cy="370.1" r="4.2"/><circle cx="1311.5" cy="402.4" r="4.2"/><circle cx="1391.4" cy="339.9" r="4.2"/><circle cx="1373.2" cy="353.2" r="4.2"/><circle cx="384.1" cy="422.2" r="4.2"/><circle cx="438.3" cy="380.2" r="4.2"/><circle cx="1387.2" cy="343.3" r="4.2"/><circle cx="420.3" cy="391.5" r="4.2"/><circle cx="353.0" cy="448.1" r="4.2"/><circle cx="350.3" cy="449.9" r="4.2"/><circle cx="458.0" cy="362.4" r="4.2"/><circle cx="1359.7" cy="363.0" r="4.2"/><circle cx="397.9" cy="411.7" r="4.2"/><circle cx="483.0" cy="342.5" r="4.2"/><circle cx="448.7" cy="371.6" r="4.2"/><circle cx="366.4" cy="436.3" r="4.2"/><circle cx="429.1" cy="383.4" r="4.2"/><circle cx="1321.9" cy="391.6" r="4.2"/><circle cx="300.5" cy="491.2" r="4.2"/><circle cx="1271.1" cy="429.9" r="4.2"/><circle cx="1429.8" cy="311.3" r="4.2"/><circle cx="328.1" cy="467.2" r="4.2"/><circle cx="1409.7" cy="324.1" r="4.2"/><circle cx="1291.5" cy="415.0" r="4.2"/><circle cx="1508.4" cy="250.3" r="4.2"/><circle cx="367.8" cy="434.6" r="4.2"/><circle cx="1417.2" cy="317.0" r="4.2"/><circle cx="1447.0" cy="296.5" r="4.2"/><circle cx="248.9" cy="532.6" r="4.2"/><circle cx="362.0" cy="440.4" r="4.2"/><circle cx="1294.2" cy="412.6" r="4.2"/><circle cx="341.7" cy="457.3" r="4.2"/><circle cx="1418.7" cy="316.8" r="4.2"/><circle cx="1395.0" cy="336.5" r="4.2"/><circle cx="326.9" cy="467.9" r="4.2"/><circle cx="1417.5" cy="320.6" r="4.2"/><circle cx="1336.3" cy="380.1" r="4.2"/><circle cx="1492.4" cy="263.1" r="4.2"/><circle cx="1324.0" cy="390.6" r="4.2"/><circle cx="370.7" cy="433.4" r="4.2"/><circle cx="264.6" cy="519.6" r="4.2"/><circle cx="1448.4" cy="295.3" r="4.2"/><circle cx="344.4" cy="454.2" r="4.2"/><circle cx="309.6" cy="481.2" r="4.2"/><circle cx="416.0" cy="395.3" r="4.2"/><circle cx="493.3" cy="331.1" r="4.2"/><circle cx="1346.3" cy="373.0" r="4.2"/><circle cx="1425.1" cy="315.2" r="4.2"/><circle cx="1353.3" cy="369.8" r="4.2"/><circle cx="303.9" cy="486.6" r="4.2"/><circle cx="1512.5" cy="248.5" r="4.2"/><circle cx="451.6" cy="365.8" r="4.2"/><circle cx="338.9" cy="458.2" r="4.2"/><circle cx="380.7" cy="425.2" r="4.2"/><circle cx="1362.2" cy="360.5" r="4.2"/><circle cx="1404.3" cy="328.2" r="4.2"/><circle cx="1314.4" cy="399.0" r="4.2"/><circle cx="319.0" cy="473.9" r="4.2"/><circle cx="1307.4" cy="403.5" r="4.2"/><circle cx="494.1" cy="333.4" r="4.2"/><circle cx="1526.9" cy="237.3" r="4.2"/><circle cx="330.7" cy="465.3" r="4.2"/><circle cx="1398.3" cy="333.4" r="4.2"/><circle cx="1377.1" cy="349.1" r="4.2"/><circle cx="1380.8" cy="346.1" r="4.2"/><circle cx="323.0" cy="471.0" r="4.2"/><circle cx="1389.5" cy="339.9" r="4.2"/><circle cx="432.9" cy="379.9" r="4.2"/><circle cx="1385.0" cy="341.9" r="4.2"/><circle cx="466.8" cy="354.9" r="4.2"/><circle cx="453.7" cy="363.5" r="4.2"/><circle cx="478.6" cy="346.0" r="4.2"/><circle cx="1335.1" cy="380.7" r="4.2"/><circle cx="443.1" cy="371.7" r="4.2"/><circle cx="1279.6" cy="422.4" r="4.2"/><circle cx="469.3" cy="352.1" r="4.2"/><circle cx="1443.3" cy="298.2" r="4.2"/><circle cx="1338.9" cy="378.7" r="4.2"/><circle cx="470.4" cy="350.9" r="4.2"/><circle cx="431.5" cy="382.3" r="4.2"/><circle cx="1368.9" cy="356.3" r="4.2"/><circle cx="1317.0" cy="395.1" r="4.2"/><circle cx="491.1" cy="333.8" r="4.2"/><circle cx="1319.0" cy="394.1" r="4.2"/><circle cx="1311.0" cy="400.2" r="4.2"/><circle cx="491.4" cy="335.1" r="4.2"/><circle cx="1270.1" cy="430.1" r="4.2"/><circle cx="1340.7" cy="375.9" r="4.2"/><circle cx="1400.9" cy="331.0" r="4.2"/><circle cx="1411.8" cy="323.4" r="4.2"/><circle cx="486.0" cy="337.0" r="4.2"/><circle cx="1286.1" cy="417.5" r="4.2"/><circle cx="1355.8" cy="365.2" r="4.2"/><circle cx="489.1" cy="334.0" r="4.2"/><circle cx="1392.5" cy="335.9" r="4.2"/><circle cx="1354.9" cy="365.6" r="4.2"/><circle cx="438.8" cy="376.1" r="4.2"/><circle cx="1379.8" cy="347.0" r="4.2"/><circle cx="1421.8" cy="314.8" r="4.2"/><circle cx="484.2" cy="338.5" r="4.2"/><circle cx="1364.2" cy="357.8" r="4.2"/><circle cx="1404.1" cy="324.7" r="4.2"/><circle cx="1352.6" cy="366.8" r="4.2"/><circle cx="1349.4" cy="369.4" r="4.2"/><circle cx="435.4" cy="377.2" r="4.2"/><circle cx="476.5" cy="345.8" r="4.2"/><circle cx="1398.2" cy="329.1" r="4.2"/><circle cx="479.1" cy="342.9" r="4.2"/><circle cx="1407.6" cy="322.2" r="4.2"/><circle cx="1402.3" cy="324.9" r="4.2"/><circle cx="1396.4" cy="331.0" r="4.2"/><circle cx="1389.6" cy="334.6" r="4.2"/><circle cx="1393.7" cy="333.2" r="4.2"/><circle cx="1396.0" cy="327.3" r="4.2"/><circle cx="1411.7" cy="317.3" r="4.2"/><circle cx="1407.1" cy="319.0" r="4.2"/><circle cx="1393.9" cy="328.7" r="4.2"/><circle cx="1409.9" cy="318.7" r="4.2"/><circle cx="1399.5" cy="324.5" r="4.2"/><circle cx="1392.6" cy="330.6" r="4.2"/><circle cx="742.4" cy="124.5" r="4.2"/><circle cx="1645.7" cy="145.2" r="4.2"/><circle cx="716.9" cy="150.2" r="4.2"/><circle cx="1639.6" cy="152.6" r="4.2"/><circle cx="1617.9" cy="166.4" r="4.2"/><circle cx="1612.0" cy="173.8" r="4.2"/><circle cx="1583.2" cy="195.7" r="4.2"/><circle cx="1577.9" cy="199.7" r="4.2"/><circle cx="1572.6" cy="207.1" r="4.2"/><circle cx="1552.1" cy="219.7" r="4.2"/><circle cx="631.4" cy="220.5" r="4.2"/><circle cx="1538.4" cy="230.8" r="4.2"/><circle cx="1531.6" cy="234.5" r="4.2"/><circle cx="588.7" cy="255.5" r="4.2"/><circle cx="588.7" cy="259.5" r="4.2"/><circle cx="571.9" cy="269.5" r="4.2"/><circle cx="563.2" cy="273.8" r="4.2"/><circle cx="1535.6" cy="285.4" r="4.2"/><circle cx="542.2" cy="292.5" r="4.2"/><circle cx="533.8" cy="301.9" r="4.2"/><circle cx="525.0" cy="310.5" r="4.2"/><circle cx="521.0" cy="311.2" r="4.2"/><circle cx="1536.1" cy="311.3" r="4.2"/><circle cx="1470.4" cy="311.7" r="4.2"/><circle cx="1381.6" cy="315.0" r="4.2"/><circle cx="513.0" cy="316.9" r="4.2"/><circle cx="1440.3" cy="320.5" r="4.2"/><circle cx="503.9" cy="322.9" r="4.2"/><circle cx="508.2" cy="323.3" r="4.2"/><circle cx="1261.2" cy="323.5" r="4.2"/><circle cx="495.1" cy="331.0" r="4.2"/><circle cx="494.2" cy="334.9" r="4.2"/><circle cx="1377.3" cy="335.8" r="4.2"/><circle cx="1369.7" cy="342.5" r="4.2"/><circle cx="379.6" cy="404.0" r="4.2"/><circle cx="448.2" cy="404.0" r="4.2"/><circle cx="1299.1" cy="407.4" r="4.2"/><circle cx="1301.5" cy="416.4" r="4.2"/><circle cx="1254.8" cy="440.9" r="4.2"/><circle cx="1259.6" cy="440.9" r="4.2"/><circle cx="234.4" cy="456.2" r="4.2"/><circle cx="255.7" cy="459.4" r="4.2"/><circle cx="1232.7" cy="461.4" r="4.2"/><circle cx="1227.9" cy="463.8" r="4.2"/><circle cx="1204.2" cy="485.9" r="4.2"/><circle cx="1183.0" cy="500.2" r="4.2"/><circle cx="332.5" cy="503.2" r="4.2"/><circle cx="1175.7" cy="504.9" r="4.2"/><circle cx="1094.2" cy="566.3" r="4.2"/><circle cx="1100.7" cy="566.3" r="4.2"/><circle cx="1078.2" cy="566.9" r="4.2"/><circle cx="1088.9" cy="568.0" r="4.2"/><circle cx="1094.2" cy="571.6" r="4.2"/><circle cx="1078.5" cy="572.2" r="4.2"/><circle cx="1086.5" cy="572.2" r="4.2"/><circle cx="1088.3" cy="576.9" r="4.2"/><circle cx="1066.9" cy="577.5" r="4.2"/><circle cx="1089.2" cy="584.6" r="4.2"/><circle cx="1072.6" cy="584.9" r="4.2"/></g><g font-family="Liberation Serif, Noto Serif CJK SC, serif" font-size="34.2" fill="#000" stroke="#000" stroke-width="0.3"><text x="204.7" y="692.2" text-anchor="middle">0.0</text><text x="418.1" y="692.2" text-anchor="middle">0.5</text><text x="631.6" y="692.2" text-anchor="middle">1.0</text><text x="845.0" y="692.2" text-anchor="middle">1.5</text><text x="85.5" y="577.4" text-anchor="end">0.0</text><text x="85.5" y="405.6" text-anchor="end">0.5</text><text x="85.5" y="233.9" text-anchor="end">1.0</text><text x="85.5" y="62.1" text-anchor="end">1.5</text><text x="1024.2" y="692.2" text-anchor="middle">4.4</text><text x="1112.0" y="692.2" text-anchor="middle">4.6</text><text x="1199.8" y="692.2" text-anchor="middle">4.8</text><text x="1287.7" y="692.2" text-anchor="middle">5.0</text><text x="1375.5" y="692.2" text-anchor="middle">5.2</text><text x="1463.3" y="692.2" text-anchor="middle">5.4</text><text x="1551.1" y="692.2" text-anchor="middle">5.6</text><text x="1638.9" y="692.2" text-anchor="middle">5.8</text><text x="1726.8" y="692.2" text-anchor="middle">6.0</text><text x="967.5" y="629.9" text-anchor="end">4.4</text><text x="967.5" y="563.0" text-anchor="end">4.6</text><text x="967.5" y="496.2" text-anchor="end">4.8</text><text x="967.5" y="429.4" text-anchor="end">5.0</text><text x="967.5" y="362.5" text-anchor="end">5.2</text><text x="967.5" y="295.6" text-anchor="end">5.4</text><text x="967.5" y="228.8" text-anchor="end">5.6</text><text x="967.5" y="161.9" text-anchor="end">5.8</text><text x="967.5" y="95.1" text-anchor="end">6.0</text><text x="471.2" y="740" text-anchor="middle">DFT calculated band gap (eV)</text><text x="1353.3" y="749" text-anchor="middle">DFT calculated work function (eV)</text><text transform="translate(29.5,537) rotate(-90)">Predicted band gap<tspan dx="-3">（</tspan><tspan dx="3">e</tspan>V<tspan dx="2">）</tspan></text><text transform="translate(911,571.5) rotate(-90)">Predicted work function<tspan dx="-2.5">（</tspan><tspan dx="2.5">e</tspan>V<tspan dx="2">）</tspan></text><text x="4" y="26.7" font-size="35">(a)</text><text x="884" y="38" font-size="35">(b)</text></g><rect x="110.6" y="63.8" width="126.6" height="67.0" fill="#fefefe" stroke="#111" stroke-width="1.6"/><circle cx="142.8" cy="81.3" r="4.1" fill="url(#gb)"/><circle cx="142.8" cy="113.3" r="4.1" fill="url(#gr)"/><text x="178.5" y="90" font-family="Liberation Serif, Noto Serif CJK SC, serif" font-size="26">Train</text><text x="178.5" y="121.7" font-family="Liberation Serif, Noto Serif CJK SC, serif" font-size="26">Test</text><rect x="1001.2" y="64.6" width="126.5" height="67.5" fill="#fefefe" stroke="#111" stroke-width="1.6"/><circle cx="1033.3" cy="82.7" r="4.1" fill="url(#gb)"/><circle cx="1033.3" cy="114.5" r="4.1" fill="url(#gr)"/><text x="1069" y="91" font-family="Liberation Serif, Noto Serif CJK SC, serif" font-size="26">Train</text><text x="1069" y="122.7" font-family="Liberation Serif, Noto Serif CJK SC, serif" font-size="26">Test</text>
</svg></body></html>
